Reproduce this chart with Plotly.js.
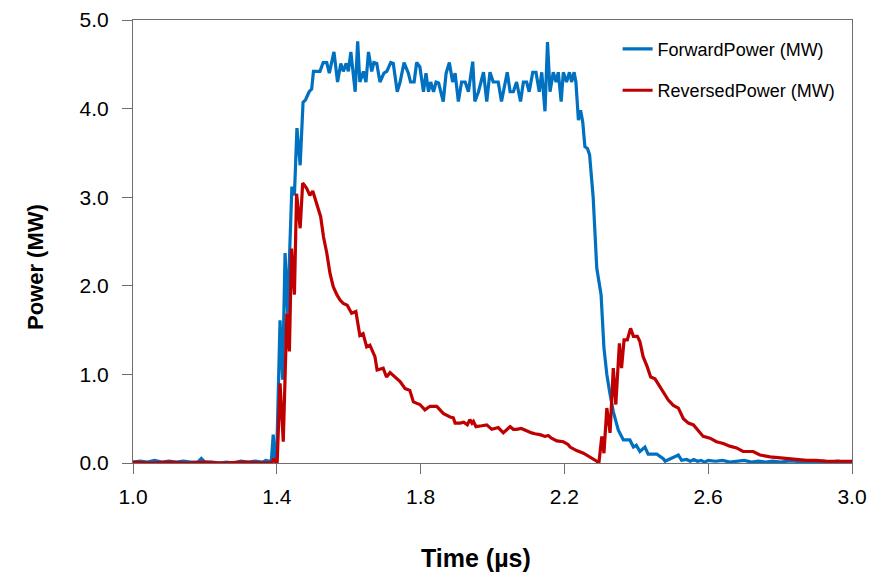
<!DOCTYPE html>
<html>
<head>
<meta charset="utf-8">
<script src="https://cdn.plot.ly/plotly-3.0.1.min.js"></script>
<style>html,body{margin:0;padding:0;background:#fff;}#chart{width:889px;height:580px;}</style>
</head>
<body>
<div id="chart"></div>
<script>
// Forward power (MW) vs time (µs)
const timeForward = [1.00,1.02,1.04,1.06,1.08,1.10,1.12,1.14,1.16,1.18,1.19,1.20,1.22,1.24,1.26,1.28,1.30,1.32,1.34,1.36,1.37,1.38,1.385,
1.39,1.395,1.40,1.409,1.416,1.423,1.43,1.442,1.449,1.456,1.465,1.473,1.48,1.49,1.497,1.502,1.511,1.520,1.529,1.539,1.546,1.559,1.569,1.578,1.585,1.593,1.599,1.606,1.618,1.625,1.631,1.641,1.648,1.655,1.664,1.670,1.678,1.687,1.698,1.706,1.717,1.724,1.735,1.743,1.754,1.766,1.772,1.782,1.789,1.798,1.808,1.815,1.822,1.828,1.836,1.843,1.850,1.863,1.871,1.880,1.889,1.896,1.905,1.914,1.924,1.933,1.945,1.951,1.961,1.975,1.984,1.993,2.002,2.016,2.025,2.041,2.049,2.058,2.067,2.078,2.086,2.095,2.102,2.112,2.121,2.130,2.137,2.146,2.153,2.160,2.169,2.177,2.183,2.191,2.197,2.206,2.214,2.220,2.227,2.232,2.239,2.245,2.251,2.257,2.264,2.270,2.280,2.290,2.296,2.302,2.310,2.318,2.326,2.336,2.350,2.364,2.382,2.392,2.400,2.410,2.424,2.433,2.457,2.475,2.480,2.490,2.503,2.517,2.526,2.54,2.55,2.56,2.57,2.58,2.59,2.60,2.62,2.64,2.66,2.68,2.70,2.72,2.74,2.76,2.78,2.80,2.82,2.84,2.86,2.88,2.90,2.92,2.94,2.96,2.98,3.00];
const powerForward = [0.01,0.02,0.01,0.03,0.01,0.02,0.01,0.02,0.01,0.01,0.05,0.01,0.01,0.00,0.01,0.00,0.02,0.01,0.02,0.01,0.03,0.02,0.03,
0.32,0.05,0.12,1.61,0.94,2.37,1.69,3.12,3.02,3.78,3.36,4.07,4.10,4.19,4.22,4.42,4.42,4.42,4.52,4.52,4.40,4.64,4.30,4.51,4.42,4.51,4.42,4.64,4.19,4.76,4.30,4.42,4.30,4.64,4.42,4.52,4.51,4.30,4.40,4.42,4.52,4.51,4.19,4.30,4.52,4.40,4.30,4.30,4.52,4.47,4.19,4.40,4.19,4.30,4.19,4.30,4.29,4.08,4.40,4.52,4.30,4.40,4.08,4.30,4.30,4.19,4.53,4.08,4.19,4.41,4.08,4.41,4.30,4.30,4.08,4.41,4.19,4.19,4.30,4.08,4.30,4.30,4.19,4.41,4.41,4.19,4.41,3.97,4.75,4.19,4.41,4.30,4.41,4.08,4.41,4.30,4.41,4.30,4.41,4.30,3.87,3.98,3.85,3.57,3.55,3.48,3.00,2.20,2.05,1.90,1.30,1.00,0.80,0.58,0.37,0.26,0.26,0.18,0.20,0.13,0.18,0.10,0.10,0.05,0.02,0.04,0.06,0.09,0.03,0.04,0.02,0.04,0.02,0.03,0.01,0.03,0.02,0.03,0.01,0.02,0.03,0.01,0.02,0.01,0.02,0.01,0.02,0.02,0.01,0.02,0.01,0.02,0.01,0.02,0.01,0.02];

// Reversed power (MW) vs time (µs)
const timeReversed = [1.00,1.05,1.10,1.15,1.20,1.25,1.30,1.35,1.385,1.392,1.397,1.401,1.409,1.418,1.428,1.435,1.441,1.449,1.455,1.465,1.472,1.483,1.492,1.500,1.511,1.522,1.530,1.539,1.548,1.557,1.567,1.576,1.585,1.596,1.608,1.620,1.631,1.640,1.650,1.659,1.673,1.679,1.696,1.705,1.715,1.729,1.743,1.757,1.770,1.780,1.798,1.812,1.826,1.845,1.863,1.882,1.891,1.896,1.910,1.920,1.930,1.937,1.943,1.947,1.954,1.970,1.984,1.998,2.016,2.030,2.036,2.049,2.058,2.067,2.080,2.095,2.109,2.118,2.132,2.146,2.155,2.164,2.179,2.197,2.210,2.216,2.234,2.253,2.271,2.290,2.296,2.304,2.310,2.318,2.327,2.336,2.343,2.353,2.359,2.366,2.375,2.384,2.392,2.403,2.410,2.419,2.430,2.440,2.452,2.464,2.475,2.489,2.503,2.517,2.531,2.545,2.559,2.572,2.586,2.605,2.623,2.642,2.660,2.679,2.697,2.725,2.744,2.772,2.800,2.837,2.874,2.90,2.93,2.96,3.00];
const powerReversed = [0.01,0.00,0.01,0.00,0.01,0.00,0.01,0.00,0.00,0.05,0.00,0.00,0.90,0.24,1.69,1.26,2.42,1.90,3.04,2.65,3.16,3.10,3.02,3.07,2.93,2.78,2.55,2.37,2.14,1.99,1.90,1.84,1.80,1.78,1.69,1.71,1.44,1.46,1.31,1.33,1.20,1.05,1.07,0.97,1.02,0.97,0.92,0.84,0.82,0.69,0.66,0.60,0.64,0.64,0.56,0.52,0.51,0.45,0.45,0.46,0.43,0.49,0.45,0.47,0.41,0.42,0.43,0.38,0.40,0.34,0.36,0.41,0.38,0.38,0.39,0.36,0.34,0.33,0.32,0.30,0.31,0.28,0.25,0.24,0.21,0.18,0.14,0.11,0.07,0.02,0.00,0.30,0.11,0.62,0.34,1.07,0.66,1.35,1.07,1.39,1.39,1.52,1.43,1.43,1.37,1.20,1.09,0.97,0.95,0.87,0.80,0.71,0.65,0.62,0.50,0.45,0.43,0.37,0.30,0.28,0.24,0.22,0.19,0.17,0.13,0.13,0.09,0.07,0.06,0.04,0.03,0.03,0.02,0.02,0.02];

const xTicks = [1.0,1.4,1.8,2.2,2.6,3.0];
const yTicks = [0.0,1.0,2.0,3.0,4.0,5.0];
const seriesNames = ['ForwardPower (MW)','ReversedPower (MW)'];
const xTitle = 'Time (µs)';
const yTitle = 'Power (MW)';

const FONT = 'Arial, "Liberation Sans", sans-serif';

const traces = [
  {x: timeForward, y: powerForward, type: 'scatter', mode: 'lines', name: seriesNames[0],
   legendgroup: 'f', line: {color: '#0070C0', width: 3.2}},
  {x: timeReversed, y: powerReversed, type: 'scatter', mode: 'lines', name: seriesNames[1],
   legendgroup: 'r', line: {color: '#C00000', width: 3.2}}
];

const axisCommon = {
  showgrid: false, zeroline: false, showline: true, linecolor: '#6e6e6e', linewidth: 1,
  mirror: true, ticks: 'outside', ticklen: 10, tickcolor: '#6e6e6e', tickwidth: 1,
  tickfont: {family: FONT, size: 21, color: '#000'}, tickformat: '.1f'
};

const layout = {
  width: 889, height: 580,
  margin: {l: 133, r: 37, t: 20, b: 117, autoexpand: false},
  paper_bgcolor: '#fff', plot_bgcolor: '#fff',
  showlegend: true,
  legend: {x: 0.674, y: 0.976, xanchor: 'left', yanchor: 'top', tracegroupgap: 15,
           font: {family: FONT, size: 18, color: '#000'}, bgcolor: 'rgba(0,0,0,0)'},
  xaxis: Object.assign({}, axisCommon, {
    range: [1.0, 3.0], tickvals: xTicks, ticklabelstandoff: 5
  }),
  yaxis: Object.assign({}, axisCommon, {
    range: [0, 5], tickvals: yTicks, ticklabelstandoff: 9
  }),
  annotations: [
    {text: '<b>' + xTitle + '</b>', xref: 'paper', yref: 'paper', x: 0.477, y: -0.2144,
     xanchor: 'center', yanchor: 'middle', showarrow: false,
     font: {family: FONT, size: 25, color: '#000'}},
    {text: '<b>' + yTitle + '</b>', xref: 'paper', yref: 'paper', x: -0.1363, y: 0.4424,
     xanchor: 'center', yanchor: 'middle', textangle: -90, showarrow: false,
     font: {family: FONT, size: 22, color: '#000'}}
  ]
};

Plotly.newPlot('chart', traces, layout, {displayModeBar: false, staticPlot: true});
</script>
</body>
</html>
